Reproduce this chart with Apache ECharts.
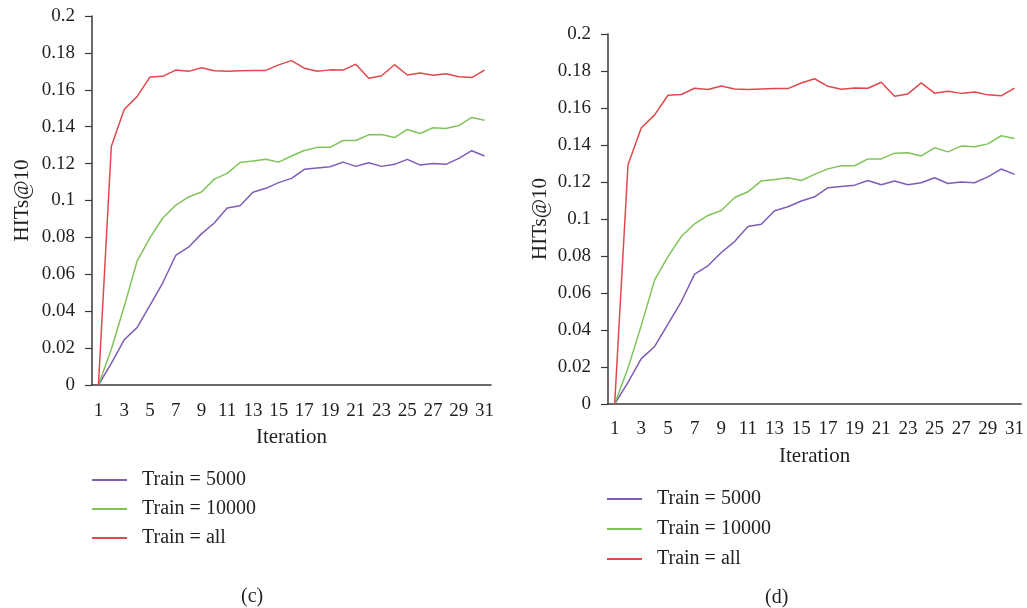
<!DOCTYPE html>
<html>
<head>
<meta charset="utf-8">
<script src="https://cdn.jsdelivr.net/npm/echarts@6/dist/echarts.min.js"></script>
<style>
html,body{margin:0;padding:0;background:#fff;}
#chart{width:1027px;height:608px;}
</style>
</head>
<body>
<div id="chart"></div>
<script>
const iterations = ['1','2','3','4','5','6','7','8','9','10','11','12','13','14','15','16','17','18','19','20','21','22','23','24','25','26','27','28','29','30','31'];
const train5000 = [0, 0.0117, 0.0245, 0.0311, 0.0432, 0.0554, 0.0702, 0.0747, 0.0819, 0.0878, 0.0959, 0.0972, 0.1045, 0.1066, 0.1097, 0.112, 0.1169, 0.1176, 0.1183, 0.1208, 0.1185, 0.1205, 0.1185, 0.1196, 0.1223, 0.1192, 0.1200, 0.1196, 0.1228, 0.127, 0.1241];
const train10000 = [0, 0.0194, 0.0425, 0.0671, 0.0797, 0.0905, 0.0974, 0.1019, 0.1046, 0.1116, 0.1147, 0.1206, 0.1214, 0.1223, 0.1208, 0.1241, 0.1271, 0.1288, 0.1288, 0.1325, 0.1325, 0.1356, 0.1358, 0.1341, 0.1385, 0.1363, 0.1394, 0.1390, 0.1406, 0.145, 0.1435];
const trainAll = [0, 0.1293, 0.1493, 0.1563, 0.1669, 0.1673, 0.1707, 0.1700, 0.1719, 0.1703, 0.1700, 0.1703, 0.1705, 0.1705, 0.1735, 0.1758, 0.1717, 0.1701, 0.1708, 0.1707, 0.1739, 0.1663, 0.1676, 0.1736, 0.1680, 0.1691, 0.1679, 0.1687, 0.1671, 0.1666, 0.1707];
const seriesNames = ['Train = 5000', 'Train = 10000', 'Train = all'];
const captions = ['(c)', '(d)'];
const yMin = 0, yMax = 0.2, yStep = 0.02;

const FONT = '"Liberation Serif", "DejaVu Serif", serif';
const TXT = '#231f20';
const AX = '#3a3a3a';
const colors = ['#7e5db6', '#80c35a', '#e0484c'];

const grids = [
  {left: 92, top: 16, width: 399, height: 369},
  {left: 608, top: 34, width: 414, height: 370}
];

function xAxis(i) {
  return {
    type: 'category', gridIndex: i, data: iterations, boundaryGap: true,
    axisLine: {lineStyle: {color: AX, width: 1.5}},
    axisTick: {interval: 0, length: 7, lineStyle: {color: AX, width: 1.2}},
    axisLabel: {interval: 1, margin: i === 0 ? 17 : 16, color: TXT, fontFamily: FONT, fontSize: 19},
    splitLine: {show: false},
    name: 'Iteration', nameLocation: 'middle', nameGap: 52,
    nameTextStyle: {color: TXT, fontFamily: FONT, fontSize: 21, verticalAlign: 'middle'}
  };
}
function yAxis(i) {
  return {
    type: 'value', gridIndex: i, min: yMin, max: yMax, interval: yStep,
    axisLine: {show: true, lineStyle: {color: AX, width: 1.5}},
    axisTick: {show: true, length: 7, lineStyle: {color: AX, width: 1.2}},
    axisLabel: {margin: 17, color: TXT, fontFamily: FONT, fontSize: 19},
    splitLine: {show: false},
    name: 'HITs@10', nameLocation: 'middle', nameGap: i === 0 ? 70 : 68, nameRotate: 90,
    nameTextStyle: {color: TXT, fontFamily: FONT, fontSize: 21, verticalAlign: 'middle'}
  };
}
const dataSets = [train5000, train10000, trainAll];
const series = [];
for (let g = 0; g < 2; g++) {
  for (let s = 0; s < 3; s++) {
    series.push({
      type: 'line', name: seriesNames[s], xAxisIndex: g, yAxisIndex: g,
      data: dataSets[s], symbol: 'none', showSymbol: false,
      lineStyle: {color: colors[s], width: 1.5}, itemStyle: {color: colors[s]},
      animation: false
    });
  }
}
function legend(left, top, gap) {
  return {
    orient: 'vertical', left: left, top: top, padding: 0, itemGap: gap,
    itemWidth: 35, itemHeight: 2, icon: 'rect',
    data: seriesNames,
    textStyle: {color: TXT, fontFamily: FONT, fontSize: 20, padding: [0, 0, 0, 10]}
  };
}
const option = {
  animation: false,
  backgroundColor: '#fff',
  color: colors,
  grid: grids,
  xAxis: [xAxis(0), xAxis(1)],
  yAxis: [yAxis(0), yAxis(1)],
  legend: [legend(92, 470, 9), legend(607, 489, 10)],
  series: series,
  graphic: [
    {type: 'text', left: 241, top: 587, style: {text: captions[0], fill: TXT, font: '20px ' + FONT}},
    {type: 'text', left: 765, top: 588, style: {text: captions[1], fill: TXT, font: '20px ' + FONT}}
  ]
};
const chart = echarts.init(document.getElementById('chart'), null, {renderer: 'canvas'});
chart.setOption(option);
</script>
</body>
</html>
